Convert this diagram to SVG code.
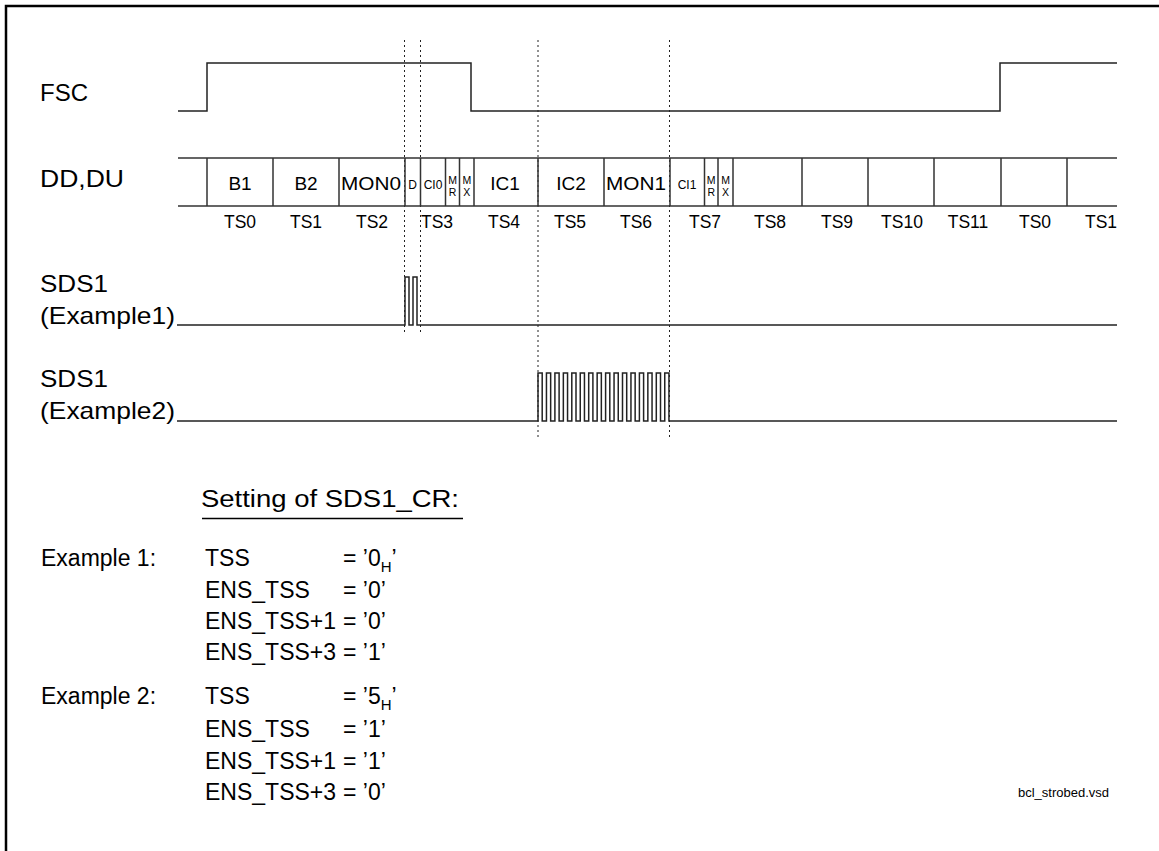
<svg xmlns="http://www.w3.org/2000/svg" width="1159" height="851" viewBox="0 0 1159 851">
<style>
text{font-family:"Liberation Sans",Arial,sans-serif;fill:#000}
.lbl{font-size:24px}
.slot{font-size:19px;text-anchor:middle}
.sm{font-size:12px;text-anchor:middle}
.mx{font-size:10.5px;text-anchor:middle}
.ts{font-size:17.5px;text-anchor:middle}
.set{font-size:23px}
.sub{font-size:15px}
.sig{fill:none;stroke:#222;stroke-width:1.5}
.row{fill:none;stroke:#333;stroke-width:1.5}
.dot{fill:none;stroke:#222;stroke-width:1;stroke-dasharray:2 3}
</style>
<rect x="0" y="0" width="1159" height="851" fill="#fff"/>
<g id="frame"><path d="M6,860 V6 H1165" fill="none" stroke="#000" stroke-width="2.5"/></g>

<g id="labels">
<text class="lbl" x="40" y="101" textLength="48" lengthAdjust="spacingAndGlyphs">FSC</text>
<text class="lbl" x="40" y="187" textLength="84" lengthAdjust="spacingAndGlyphs">DD,DU</text>
<text class="lbl" x="40" y="292" textLength="68" lengthAdjust="spacingAndGlyphs">SDS1</text>
<text class="lbl" x="40" y="324" textLength="135" lengthAdjust="spacingAndGlyphs">(Example1)</text>
<text class="lbl" x="40" y="387" textLength="68" lengthAdjust="spacingAndGlyphs">SDS1</text>
<text class="lbl" x="40" y="419" textLength="135" lengthAdjust="spacingAndGlyphs">(Example2)</text>
</g>

<g id="connectors">
<path class="dot" d="M404.5,40 V332 M420.5,40 V332 M538,40 V440 M669.5,40 V440"/>
</g>

<g id="fsc"><path class="sig" d="M178,111 H207 V63 H471 V111 H1000 V63 H1117"/></g>

<g id="ddrow">
<path class="row" d="M178,158 H1117 M178,206 H1117"/>
<path class="row" d="M207,158 V206 M273,158 V206 M339,158 V206 M405,158 V206 M420.5,158 V206 M445.5,158 V206 M459.5,158 V206 M474,158 V206 M538,158 V206 M604,158 V206 M670,158 V206 M704.5,158 V206 M718,158 V206 M733,158 V206 M802,158 V206 M868,158 V206 M934,158 V206 M1001,158 V206 M1067,158 V206"/>
<text class="slot" x="240" y="190">B1</text>
<text class="slot" x="306" y="190">B2</text>
<text class="slot" x="371" y="190" textLength="60" lengthAdjust="spacingAndGlyphs">MON0</text>
<text class="sm" x="412.7" y="189" font-size="11">D</text>
<text class="sm" x="433" y="189">CI0</text>
<text class="mx" x="452.5" y="183.5">M</text>
<text class="mx" x="452.5" y="195.5">R</text>
<text class="mx" x="466.8" y="183.5">M</text>
<text class="mx" x="466.8" y="195.5">X</text>
<text class="slot" x="505" y="190">IC1</text>
<text class="slot" x="571" y="190">IC2</text>
<text class="slot" x="636" y="190" textLength="60" lengthAdjust="spacingAndGlyphs">MON1</text>
<text class="sm" x="687" y="189">CI1</text>
<text class="mx" x="711.2" y="183.5">M</text>
<text class="mx" x="711.2" y="195.5">R</text>
<text class="mx" x="725.5" y="183.5">M</text>
<text class="mx" x="725.5" y="195.5">X</text>
</g>

<g id="tslabels">
<text class="ts" x="240" y="228">TS0</text>
<text class="ts" x="306" y="228">TS1</text>
<text class="ts" x="372" y="228">TS2</text>
<text class="ts" x="437" y="228">TS3</text>
<text class="ts" x="504" y="228">TS4</text>
<text class="ts" x="570" y="228">TS5</text>
<text class="ts" x="636" y="228">TS6</text>
<text class="ts" x="705" y="228">TS7</text>
<text class="ts" x="770" y="228">TS8</text>
<text class="ts" x="837" y="228">TS9</text>
<text class="ts" x="902" y="228">TS10</text>
<text class="ts" x="968" y="228">TS11</text>
<text class="ts" x="1035" y="228">TS0</text>
<text class="ts" x="1101" y="228">TS1</text>
</g>

<g id="sds1-ex1"><path class="sig" d="M177,325 H405 V277 H409 V325 H413 V277 H417 V325 H1117"/></g>

<g id="sds1-ex2"><path class="sig" d="M177,421 H538 V373 H542.2 V421 H546.45 V373 H550.65 V421 H554.9 V373 H559.1 V421 H563.35 V373 H567.55 V421 H571.8 V373 H576 V421 H580.25 V373 H584.45 V421 H588.7 V373 H592.9 V421 H597.15 V373 H601.35 V421 H605.6 V373 H609.8 V421 H614.05 V373 H618.25 V421 H622.5 V373 H626.7 V421 H630.95 V373 H635.15 V421 H639.4 V373 H643.6 V421 H647.85 V373 H652.05 V421 H656.3 V373 H660.5 V421 H664.75 V373 H668.95 V421 H1117"/></g>

<g id="settings">
<text class="set" x="201" y="507" font-size="24" textLength="258" lengthAdjust="spacingAndGlyphs">Setting of SDS1_CR:</text>
<line x1="202" y1="518.5" x2="463" y2="518.5" stroke="#000" stroke-width="1.3"/>
<text class="set" x="41" y="566">Example 1:</text>
<text class="set" x="205" y="566">TSS</text>
<text class="set" x="343" y="566">= ’0<tspan class="sub" dy="6">H</tspan><tspan dy="-6">’</tspan></text>
<text class="set" x="205" y="598">ENS_TSS</text>
<text class="set" x="343" y="598">= ’0’</text>
<text class="set" x="205" y="629">ENS_TSS+1</text>
<text class="set" x="343" y="629">= ’0’</text>
<text class="set" x="205" y="660">ENS_TSS+3</text>
<text class="set" x="343" y="660">= ’1’</text>
<text class="set" x="41" y="704">Example 2:</text>
<text class="set" x="205" y="704">TSS</text>
<text class="set" x="343" y="704">= ’5<tspan class="sub" dy="6">H</tspan><tspan dy="-6">’</tspan></text>
<text class="set" x="205" y="737">ENS_TSS</text>
<text class="set" x="343" y="737">= ’1’</text>
<text class="set" x="205" y="769">ENS_TSS+1</text>
<text class="set" x="343" y="769">= ’1’</text>
<text class="set" x="205" y="800">ENS_TSS+3</text>
<text class="set" x="343" y="800">= ’0’</text>
</g>

<g id="footer"><text x="1018" y="797" font-size="13">bcl_strobed.vsd</text></g>
</svg>
